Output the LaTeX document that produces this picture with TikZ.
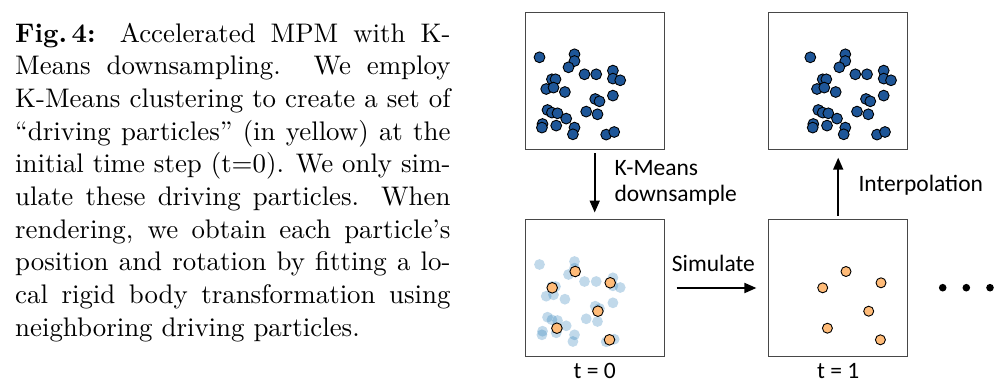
\documentclass[tikz,border=0pt]{standalone}
\usepackage{fontspec}
\usepackage{graphicx}
\usetikzlibrary{arrows.meta}
\newfontfamily\lab{Carlito}
\definecolor{pblue}{RGB}{30,86,152}
\definecolor{tabblue}{RGB}{31,119,180}
\definecolor{porange}{RGB}{255,187,120}
\tikzset{
  box/.style={draw=black!72, line width=1.4pt, minimum width=139pt, minimum height=137pt, inner sep=0pt, outer sep=0pt},
  arr/.style={line width=1.8pt, -{Triangle[length=12pt,width=10pt]}},
  lbl/.style={font=\lab\fontsize{23.5}{26}\selectfont, inner sep=0pt, align=left},
  bp/.style={fill=pblue, draw=black, line width=0.9pt},
  lp/.style={fill=tabblue, fill opacity=0.28, draw=none},
  op/.style={fill=porange, draw=black, line width=0.9pt},
  dotc/.style={fill=black, draw=none}
}
\newcommand\bluepts[1]{%
  \foreach \px/\py in {14.3/45,49.3/42,49.3/48.7,43.3/55,59.3/62,71/62,87.7/58.3,87.7/66.3,95/68,26.7/67,30.3/67,21/76.7,28.3/75.3,39.7/79.7,70/86.7,74.3/89,87.7/83.3,22.3/97.7,26.7/100.3,32.3/101,41/106.3,61/99.3,72.3/102,17.3/111.7,16.7/115.3,31/113.3,49.3/115.3,47.7/122,81/122.3,89/119.7}{\path[#1] (\px,\py) circle[radius=5.4pt];}}
\begin{document}
\begin{tikzpicture}[x=1pt,y=-1pt]
\useasboundingbox (0,0) rectangle (1008,391);
% caption
\node[anchor=base west, inner sep=0pt] (cap) at (15,42) {\scalebox{2.687}{\parbox[t]{162pt}{\fontsize{10}{12.17}\selectfont\parindent=0pt\hyphenpenalty=10000\exhyphenpenalty=10000
\textbf{Fig.\,4:} Accelerated MPM with K-\linebreak Means downsampling. We employ\linebreak K-Means clustering to create a set of\linebreak ``driving particles'' (in yellow) at the\linebreak initial time step (t=0). We only sim-\linebreak ulate these driving particles. When\linebreak rendering, we obtain each particle's\linebreak position and rotation by fitting a lo-\linebreak cal rigid body transformation using\linebreak neighboring driving particles.}}};
% boxes
\node[box] (A) at (594.7,80.8) {};
\node[box] (B) at (838.2,80.8) {};
\node[box] (C) at (594.7,288) {};
\node[box] (D) at (838.2,288) {};
% particles
\begin{scope}[shift={(A.north west)}]\bluepts{bp}\end{scope}
\begin{scope}[shift={(B.north west)}, xshift=27.3pt]\bluepts{bp}\end{scope}
\begin{scope}[shift={(C.north west)}]
  \bluepts{lp}
  \foreach \px/\py in {50/52,27/68.3,85/63.3,72.7/91.7,31.7/108.7,84.3/120.3}{\path[op] (\px,\py) circle[radius=5.3pt];}
\end{scope}
\begin{scope}[shift={(D.north west)}]
  \foreach \px/\py in {77.3/52,54/68.3,112.3/63.3,100/91.7,58.7/108.7,111.7/120.3}{\path[op] (\px,\py) circle[radius=5pt];}
\end{scope}
% arrows
\draw[arr, shorten <=3.7pt, shorten >=7pt] (A.south) -- (C.north);
\draw[arr, shorten <=12.4pt, shorten >=12.3pt] (C.east) -- (D.west);
\draw[arr, shorten <=3.6pt, shorten >=8.4pt] (D.north) -- (B.south);
% labels
\node[lbl, anchor=base west] (lk) at (614.3,201.7) {K-Means\\downsample};
\node[lbl, anchor=base west] (ls) at (671.7,271.7) {Simulate};
\node[lbl, anchor=base west] (li) at (858.3,191.7) {Interpolation};
\node[lbl, anchor=base] (t0) at (594.7,378) {t = 0};
\node[lbl, anchor=base] (t1) at (838.2,378) {t = 1};
% dots
\path[dotc] (942.7,287.7) circle[radius=3.8pt] (966.3,287.7) circle[radius=3.8pt] (990,287.7) circle[radius=3.8pt];
\end{tikzpicture}
\end{document}
